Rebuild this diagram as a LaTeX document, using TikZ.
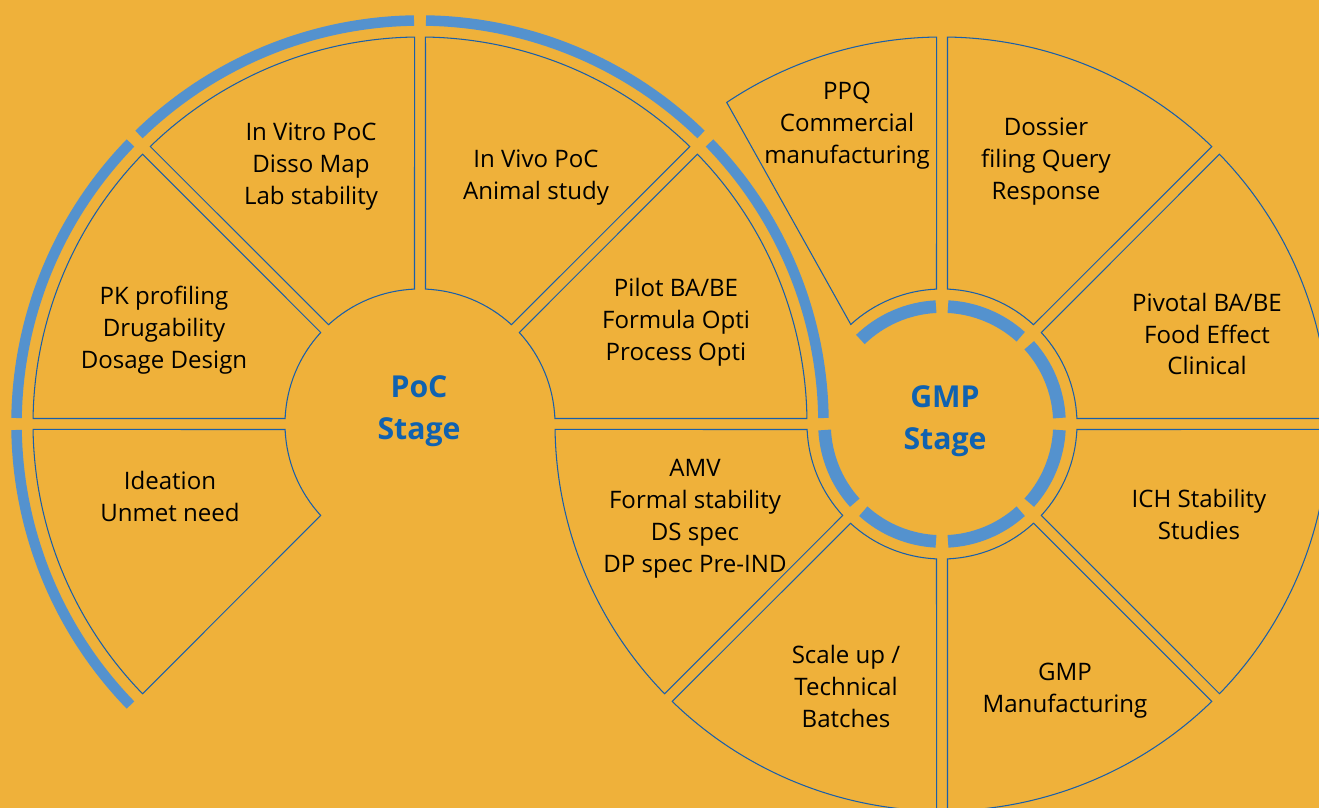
\documentclass[tikz,border=0pt]{standalone}
\usepackage{fontspec}
\setmainfont{Open Sans}
\usepackage{tikz}
\usetikzlibrary{%
	calc%
}

\definecolor{bgorange}{RGB}{239,177,58}
\definecolor{bandblue}{RGB}{84,146,206}
\definecolor{edgeblue}{RGB}{25,95,170}
\definecolor{titleblue}{RGB}{16,98,176}

\tikzset{
	sectoredge/.style={draw=edgeblue, line width=0.6pt},
	pocband/.style={draw=bandblue, line width=6pt},
	gmpband/.style={draw=bandblue, line width=7.2pt},
	stagetext/.style={align=center, font=\fontsize{13.7}{18.2}\selectfont},
	stagetitle/.style={align=center, text=titleblue, font=\fontsize{17.2}{24}\selectfont\bfseries}
}

% ring piece between two angles, pulled in on both straight sides
\newcommand{\drawsector}[3]{%
	\draw[sectoredge] ($(#1)+({#2+2.33}:135)$) -- ($(#1)+({#2+0.81}:387)$)
		arc[start angle=#2+0.81, end angle=#3-0.81, radius=387]
		-- ($(#1)+({#3-2.33}:135)$)
		arc[start angle=#3-2.33, end angle=#2+2.33, radius=135] -- cycle;%
}

\begin{document}
\begin{tikzpicture}[x=0.02cm, y=0.02cm]
		\useasboundingbox (0,0) rectangle (1319,808);
		\fill[bgorange] (0,0) rectangle (1319,808);
		\clip (0,0) rectangle (1319,808);

		% Centres
		\coordinate (poc) at (420,384);
		\coordinate (gmp) at (942,384);

		% PoC sectors
		\drawsector{poc}{180}{225}
		\drawsector{poc}{135}{180}
		\drawsector{poc}{90}{135}
		\drawsector{poc}{45}{90}
		\drawsector{poc}{0}{45}

		% GMP sectors
		\drawsector{gmp}{45}{90}
		\drawsector{gmp}{0}{45}
		\drawsector{gmp}{-45}{0}
		\drawsector{gmp}{-90}{-45}
		\drawsector{gmp}{-135}{-90}
		\drawsector{gmp}{180}{225}
		\draw[sectoredge] ($(gmp)+(132.5:135)$) -- ($(gmp)+(123.8:387)$)
			arc[start angle=123.8, end angle=90.81, radius=387]
			-- ($(gmp)+(92.33:135)$)
			arc[start angle=92.33, end angle=132.5, radius=135] -- cycle;

		% Blue band round PoC
		\draw[pocband] ($(poc)+(0.85:403.5)$) arc[start angle=0.85, end angle=44.15, radius=403.5];
		\draw[pocband] ($(poc)+(45.85:403.5)$) arc[start angle=45.85, end angle=89.15, radius=403.5];
		\draw[pocband] ($(poc)+(90.85:403.5)$) arc[start angle=90.85, end angle=134.15, radius=403.5];
		\draw[pocband] ($(poc)+(135.85:403.5)$) arc[start angle=135.85, end angle=179.15, radius=403.5];
		\draw[pocband] ($(poc)+(180.85:403.5)$) arc[start angle=180.85, end angle=224.15, radius=403.5];

		% Blue ring round GMP
		\draw[gmpband] ($(gmp)+(92.93:117.5)$) arc[start angle=92.93, end angle=134, radius=117.5];
		\draw[gmpband] ($(gmp)+(47.93:117.5)$) arc[start angle=47.93, end angle=87.07, radius=117.5];
		\draw[gmpband] ($(gmp)+(2.93:117.5)$) arc[start angle=2.93, end angle=42.07, radius=117.5];
		\draw[gmpband] ($(gmp)+(-42.07:117.5)$) arc[start angle=-42.07, end angle=-2.93, radius=117.5];
		\draw[gmpband] ($(gmp)+(-87.07:117.5)$) arc[start angle=-87.07, end angle=-47.93, radius=117.5];
		\draw[gmpband] ($(gmp)+(-132.07:117.5)$) arc[start angle=-132.07, end angle=-92.93, radius=117.5];
		\draw[gmpband] ($(gmp)+(182.93:117.5)$) arc[start angle=182.93, end angle=222.07, radius=117.5];

		% Nodes
		\node[stagetitle] (poctitle) at (419,397) {PoC\\Stage};
		\node[stagetitle] (gmptitle) at (945,387) {GMP\\Stage};

		\node[stagetext] (ideation) at (170,312) {Ideation\\Unmet need};
		\node[stagetext] (pkprof) at (164,478) {PK profiling\\Drugability\\Dosage Design};
		\node[stagetext] (invitro) at (311,641) {In Vitro PoC\\Disso Map\\Lab stability};
		\node[stagetext] (invivo) at (536,630) {In Vivo PoC\\Animal study};
		\node[stagetext] (pilot) at (676,486) {Pilot BA/BE\\Formula Opti\\Process Opti};
		\node[stagetext] (amv) at (695,289) {AMV\\Formal stability\\DS spec\\DP spec Pre-IND};
		\node[stagetext] (scaleup) at (846,122) {Scale up /\\Technical\\Batches};
		\node[stagetext] (ppq) at (847,682) {PPQ\\Commercial\\manufacturing};
		\node[stagetext] (dossier) at (1046,646) {Dossier\\filing Query\\Response};
		\node[stagetext] (pivotal) at (1207,474) {Pivotal BA/BE\\Food Effect\\Clinical};
		\node[stagetext] (ich) at (1199,294) {ICH Stability\\Studies};
		\node[stagetext] (gmpmfg) at (1065,117) {GMP\\Manufacturing};
\end{tikzpicture}
\end{document}
